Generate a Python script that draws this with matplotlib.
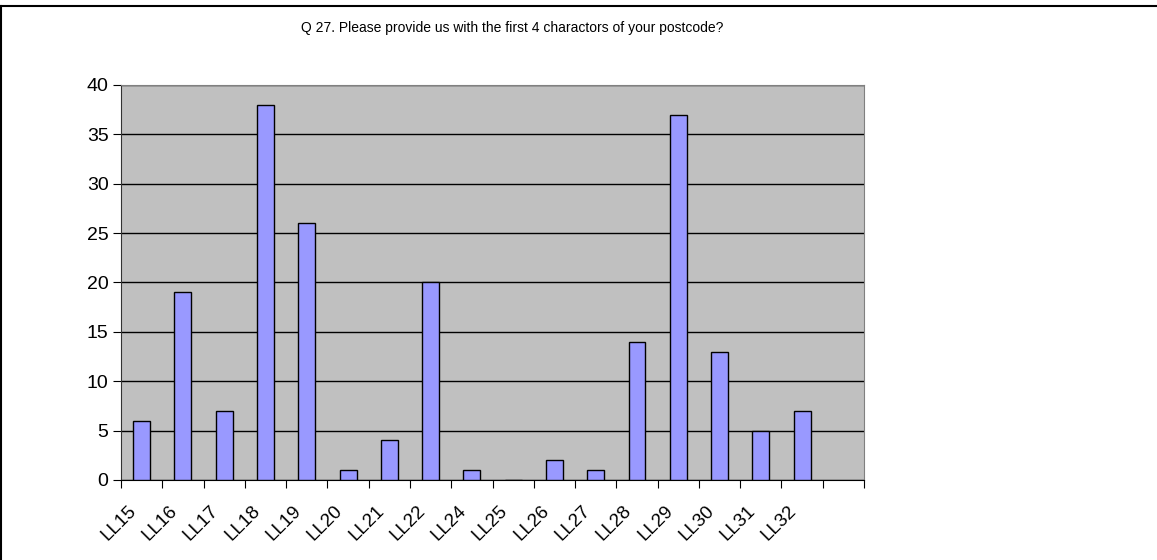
import numpy as np
import matplotlib
matplotlib.use('Agg')
import matplotlib.pyplot as plt
import matplotlib.transforms as mtransforms
from matplotlib.lines import Line2D

plt.rcParams['font.family'] = ['Liberation Sans', 'DejaVu Sans']

categories = ['LL15', 'LL16', 'LL17', 'LL18', 'LL19', 'LL20', 'LL21', 'LL22', 'LL24',
              'LL25', 'LL26', 'LL27', 'LL28', 'LL29', 'LL30', 'LL31', 'LL32', '']
counts = [6, 19, 7, 38, 26, 1, 4, 20, 1, 0, 2, 1, 14, 37, 13, 5, 7, np.nan]
title = 'Q 27. Please provide us with the first 4 charactors of your postcode?'

fig = plt.figure(figsize=(11.57, 5.6), dpi=100)
ax = fig.add_axes([0.1046, 0.1429, 0.6422, 0.7054])
ax.set_facecolor('#c0c0c0')

x = np.arange(len(categories))
ax.bar(x, counts, width=0.41, color='#9999ff', edgecolor='black', linewidth=1, zorder=3)

ax.set_xlim(-0.5, len(categories) - 0.5)
ax.set_ylim(0, 40)
ax.set_yticks(range(0, 41, 5))
ax.yaxis.grid(True, color='black', linewidth=1, zorder=1)
ax.set_axisbelow(True)

ax.set_xticks(np.arange(-0.5, len(categories), 1.0))
ax.set_xticklabels([])
ax.set_xticks(x, minor=True)
ax.set_xticklabels(categories, minor=True, rotation=45, ha='right', va='top',
                   rotation_mode='anchor', fontsize=13.5)
ax.tick_params(axis='x', which='minor', length=0, pad=16)
ax.tick_params(axis='x', which='major', length=6, direction='out', color='black')
ax.tick_params(axis='y', length=6, direction='out', labelsize=14, pad=3)

shift = mtransforms.ScaledTranslation(-14 / 100, 0, fig.dpi_scale_trans)
for lab in ax.get_xticklabels(minor=True):
    lab.set_transform(lab.get_transform() + shift)

for side in ['top', 'right']:
    ax.spines[side].set_color('#808080')
ax.spines['left'].set_color('#333333')
ax.spines['bottom'].set_color('black')

fig.text(512 / 1157, 1 - 28 / 560, title, ha='center', va='center', fontsize=10)

# outer chart border
fig.add_artist(Line2D([0, 1], [1 - 6 / 560, 1 - 6 / 560], transform=fig.transFigure,
                      color='black', linewidth=1.5))
fig.add_artist(Line2D([0.001, 0.001], [0, 1 - 6 / 560], transform=fig.transFigure,
                      color='black', linewidth=1.5))

fig.savefig('out.png', dpi=100)
